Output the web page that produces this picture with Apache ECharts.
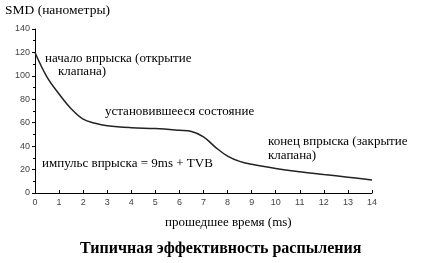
<!DOCTYPE html>
<html>
<head>
<meta charset="utf-8">
<script src="https://cdn.jsdelivr.net/npm/echarts@6/dist/echarts.min.js"></script>
<style>html,body{margin:0;padding:0;background:#fff}#c{width:427px;height:263px}</style>
</head>
<body>
<div id="c"></div>
<script>
var timeMs = [0, 0.5, 1, 1.5, 2, 2.5, 3, 4, 5, 6, 6.5, 7, 7.5, 8, 8.5, 9, 10, 11, 12, 13, 14];
var smdNm  = [120, 99, 84.5, 72, 63, 59.5, 57.5, 55.8, 55, 53.5, 52.5, 48, 39, 31.5, 27, 24.5, 21, 18.2, 15.8, 13.5, 11];
var yTitle = 'SMD (нанометры)';
var xTitle = 'прошедшее время (ms)';
var chartTitle = 'Типичная эффективность распыления';
var notes = [
  ['начало впрыска (открытие', 45, 60],
  ['клапана)', 58, 73],
  ['установившееся состояние', 105, 113],
  ['импульс впрыска = 9ms + TVB', 42, 165],
  ['конец впрыска (закрытие', 268, 143],
  ['клапана)', 268, 157]
];

var serif = '"Liberation Serif", "DejaVu Serif", serif';
var chart = echarts.init(document.getElementById('c'), null, {renderer: 'canvas'});
var graphics = notes.map(function (n) {
  return {type: 'text', left: n[1], top: n[2] - 8,
    style: {text: n[0], font: '13px ' + serif, fill: '#000'}};
});
graphics.push({type: 'text', left: 5, top: 3, style: {text: yTitle, font: '13.5px ' + serif, fill: '#000'}});
graphics.push({type: 'text', left: 165, top: 216, style: {text: xTitle, font: '13px ' + serif, fill: '#000'}});

chart.setOption({
  animation: false,
  backgroundColor: '#fff',
  title: {text: chartTitle, left: 75, top: 236,
    textStyle: {fontFamily: serif, fontSize: 16, fontWeight: 'bold', color: '#000'}},
  graphic: graphics,
  grid: {left: 35, right: 55, top: 29, bottom: 70},
  xAxis: {type: 'value', min: 0, max: 14, interval: 1,
    axisLine: {lineStyle: {color: '#000', width: 1}},
    axisTick: {show: true, inside: true, length: 3, lineStyle: {color: '#000'}},
    axisLabel: {fontSize: 9, color: '#444', fontFamily: 'Arial, "Liberation Sans", sans-serif', margin: 5},
    splitLine: {show: false}},
  yAxis: {type: 'value', min: 0, max: 140, interval: 20,
    axisLine: {show: true, lineStyle: {color: '#000', width: 1}},
    axisTick: {show: true, length: 3, lineStyle: {color: '#000'}},
    minorTick: {show: true, splitNumber: 2, length: 2, lineStyle: {color: '#000'}},
    axisLabel: {fontSize: 9, color: '#444', fontFamily: 'Arial, "Liberation Sans", sans-serif', margin: 5},
    splitLine: {show: false}},
  series: [{type: 'line', smooth: 0.4, showSymbol: false,
    data: timeMs.map(function (t, i) { return [t, smdNm[i]]; }),
    lineStyle: {color: '#222', width: 1.5}}]
});
</script>
</body>
</html>
